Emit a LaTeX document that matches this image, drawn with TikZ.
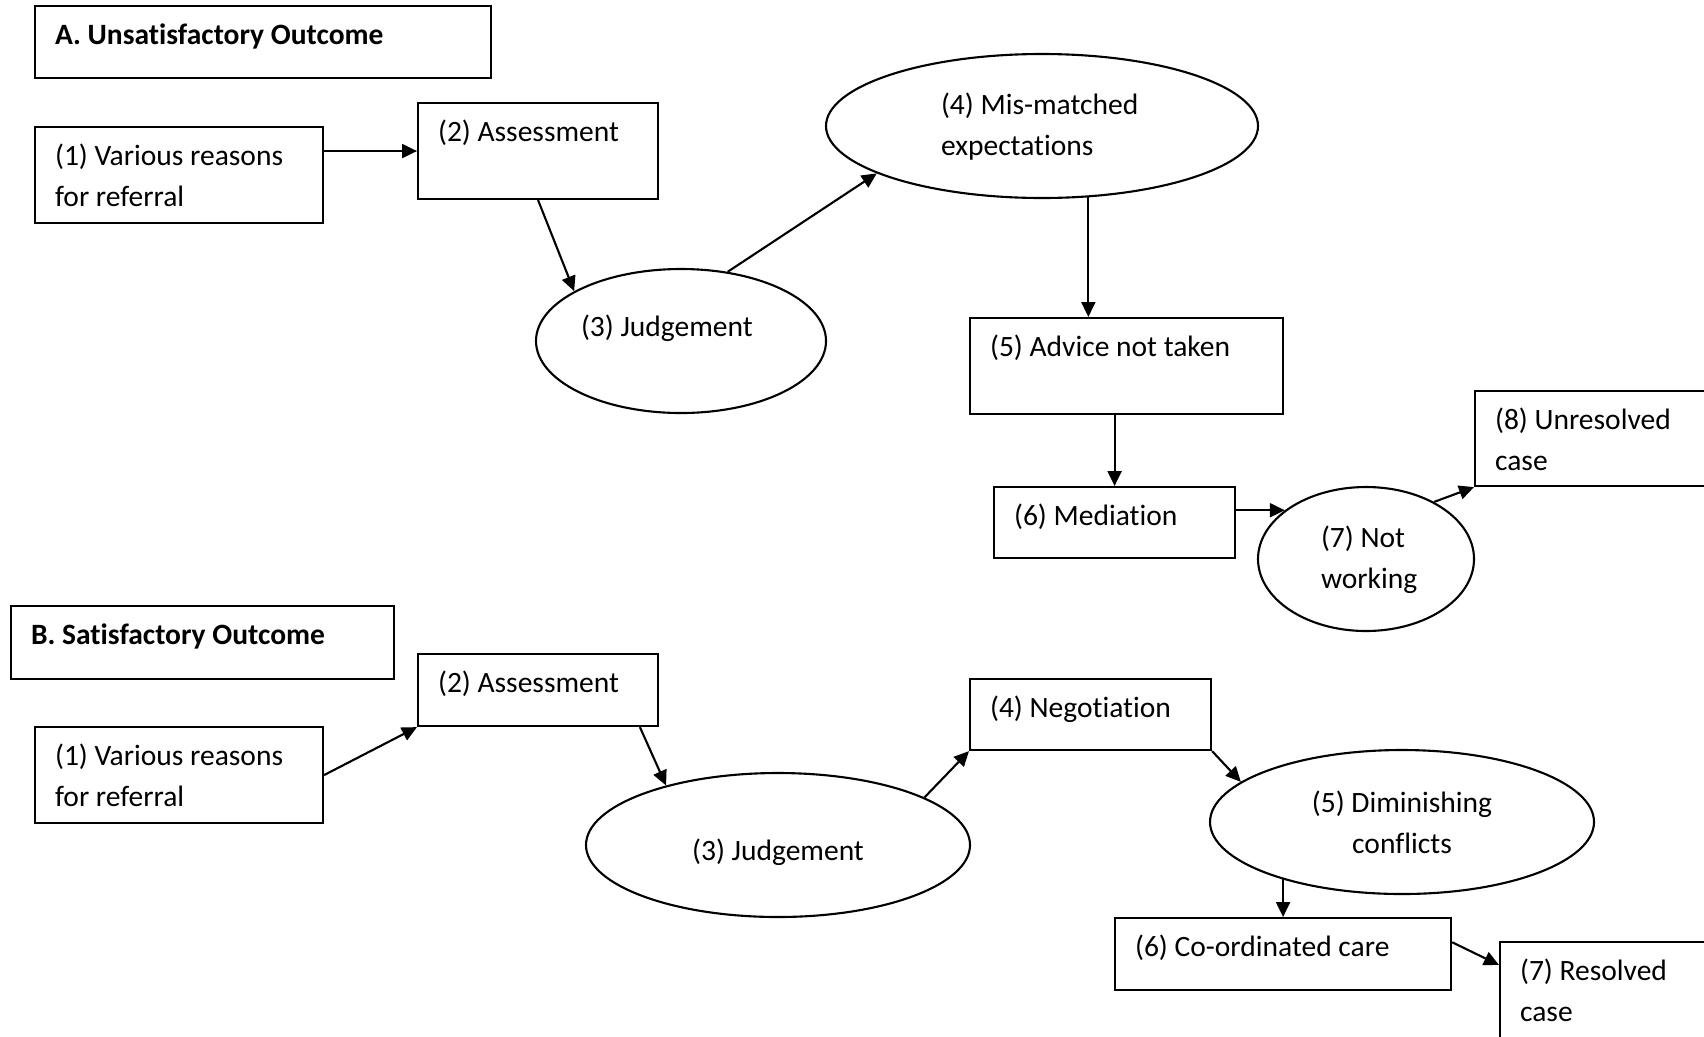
\documentclass[tikz,border=0pt]{standalone}
\usepackage{fontspec}
\setmainfont{Carlito}[Ligatures=NoCommon]
\usetikzlibrary{shapes.geometric, arrows.meta}
\tikzstyle{box} = [rectangle,draw,semithick,anchor=north west,align=flush left,inner xsep=0.2cm,inner ysep=0.16cm,text height=0.22cm,font=\fontsize{8.4}{11.7}\selectfont]
\tikzstyle{oval} = [ellipse,draw,semithick,inner sep=0pt,align=flush left,minimum height=1.44cm,font=\fontsize{8.4}{11.7}\selectfont]
\tikzstyle{arr} = [semithick,-{Triangle[length=0.15cm,width=0.14cm]}]

\begin{document}
\begin{tikzpicture}
		\useasboundingbox (0,0) rectangle (17.04,-10.36);
		\clip (0,0) rectangle (17.04,-10.36);
		% A
		\node [box,text width=4.16cm,text depth=0.18cm](tA) at (0.34,-0.05){\textbf{A. Unsatisfactory Outcome}};
		\node [box,text width=2.48cm,text depth=0.42cm](a1) at (0.34,-1.26){(1) Various reasons\\for referral};
		\node [box,text width=2.00cm,text depth=0.42cm](a2) at (4.17,-1.02){(2) Assessment};
		\node [oval,minimum width=2.9cm,text width=2cm,text height=0.22cm,text depth=0.32cm](a3) at (6.81,-3.41){(3) Judgement};
		\node [oval,minimum width=4.32cm,text width=2.02cm,text height=0.22cm,text depth=0.46cm](a4) at (10.42,-1.26){(4) Mis-matched\\expectations};
		\node [box,text width=2.73cm,text depth=0.42cm](a5) at (9.69,-3.17){(5) Advice not taken};
		\node [box,text width=2.01cm,text depth=0.17cm](a6) at (9.93,-4.86){(6) Mediation};
		\node [oval,minimum width=2.16cm,text width=0.9cm,text height=0.22cm,text depth=0.46cm](a7) at (13.66,-5.59){(7) Not\\working};
		\node [box,text width=2.2cm,text depth=0.41cm](a8) at (14.74,-3.90){(8) Unresolved\\case};
		
		\draw[arr](a1.east|-a2.west)--(a2.west);
		\draw[arr](a2.south)--(a3.155);
		\draw[arr](a3.56)--(a4.196);
		\draw[arr](a4.303)--(a4.303|-a5.north);
		\draw[arr](a5.south-|a6.north)--(a6.north);
		\draw[arr](a6.east|-a7.149)--(a7.149);
		\draw[arr](a7.40)--(a8.south west);
		
		% B
		\node [box,text width=3.43cm,text depth=0.19cm](tB) at (0.10,-6.05){\textbf{B. Satisfactory Outcome}};
		\node [box,text width=2.48cm,text depth=0.42cm](b1) at (0.34,-7.26){(1) Various reasons\\for referral};
		\node [box,text width=2.00cm,text depth=0.18cm](b2) at (4.17,-6.53){(2) Assessment};
		\node [oval,minimum width=3.84cm,text height=0.30cm,text depth=0cm](b3) at (7.78,-8.45){(3) Judgement};
		\node [box,text width=2.01cm,text depth=0.17cm](b4) at (9.69,-6.78){(4) Negotiation};
		\node [oval,minimum width=3.84cm,text width=2cm,align=flush center,text height=0.26cm,text depth=0.46cm](b5) at (14.02,-8.22){(5) Diminishing\\conflicts};
		\node [box,text width=2.96cm,text depth=0.18cm](b6) at (11.14,-9.17){(6) Co-ordinated care};
		\node [box,text width=2.2cm,text depth=0.42cm](b7) at (14.99,-9.41){(7) Resolved\\case};
		
		\draw[arr](b1.east)--(b2.south west);
		\draw[arr](b2.340)--(b3.152);
		\draw[arr](b3.18)--(b4.south west);
		\draw[arr](b4.south east)--(b5.166);
		\draw[arr](b6.north|-b5.205)--(b6.north);
		\draw[arr](b6.4)--([yshift=-0.24cm]b7.north west);
\end{tikzpicture}
\end{document}
